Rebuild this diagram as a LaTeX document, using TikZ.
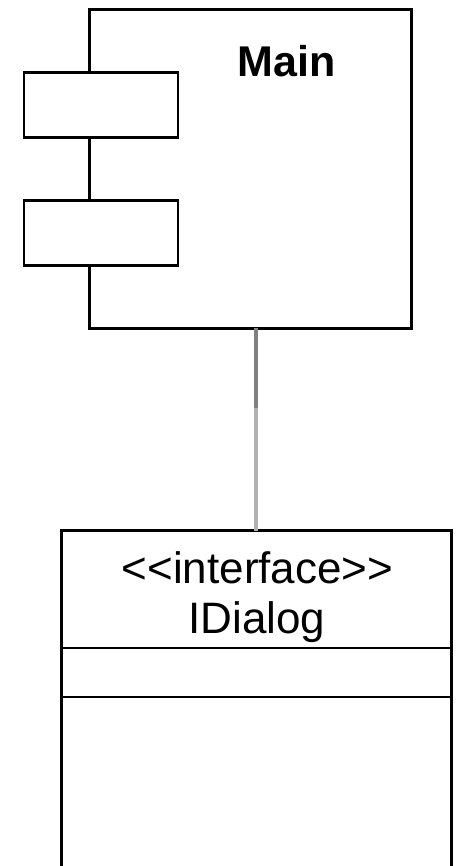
\documentclass[tikz,border=0pt]{standalone}
\usepackage{fontspec}
\setmainfont{Liberation Sans}
\usetikzlibrary{calc}
\begin{document}
\begin{tikzpicture}[x=1pt,y=1pt,
  box/.style={draw=black,line width=2.6pt,fill=white,inner sep=0pt,outer sep=0pt,rectangle},
  lbl/.style={inner sep=0pt,outer sep=0pt,anchor=base},
  conn/.style={line width=3.5pt}]
\useasboundingbox (0,0) rectangle (458,-866);
% component
\node[box,minimum width=322pt,minimum height=319pt,anchor=north west] (main) at (89.5,-9.5) {};
\node[box,minimum width=154pt,minimum height=65pt,anchor=north west] (p1) at (24,-72.5) {};
\node[box,minimum width=154pt,minimum height=65pt,anchor=north west] (p2) at (24,-200.5) {};
\node[lbl] (mainlbl) at (286.5,-77) {\fontsize{43}{50}\selectfont\bfseries Main};
% interface class
\node[box,minimum width=390pt,minimum height=360pt,anchor=north west,fill=none] (iface) at (61.5,-530.5) {};
\coordinate (d1l) at (61.5,-648);
\coordinate (d2l) at (61.5,-697);
\draw[line width=2.6pt] (d1l) -- (d1l -| iface.east);
\draw[line width=2.6pt] (d2l) -- (d2l -| iface.east);
\node[lbl] (stereo) at (257.5,-583) {\fontsize{44}{50}\selectfont <{}<interface>{}>};
\node[lbl] (name) at (257,-633) {\fontsize{44}{50}\selectfont IDialog};
% connector
\coordinate (cA) at (256,-328);
\coordinate (cM) at (256,-408);
\draw[conn,draw={rgb,255:red,128;green,128;blue,128}] (cA) -- (cM);
\draw[conn,draw={rgb,255:red,176;green,176;blue,176}] (cM) -- (cM |- iface.north);
\end{tikzpicture}
\end{document}
